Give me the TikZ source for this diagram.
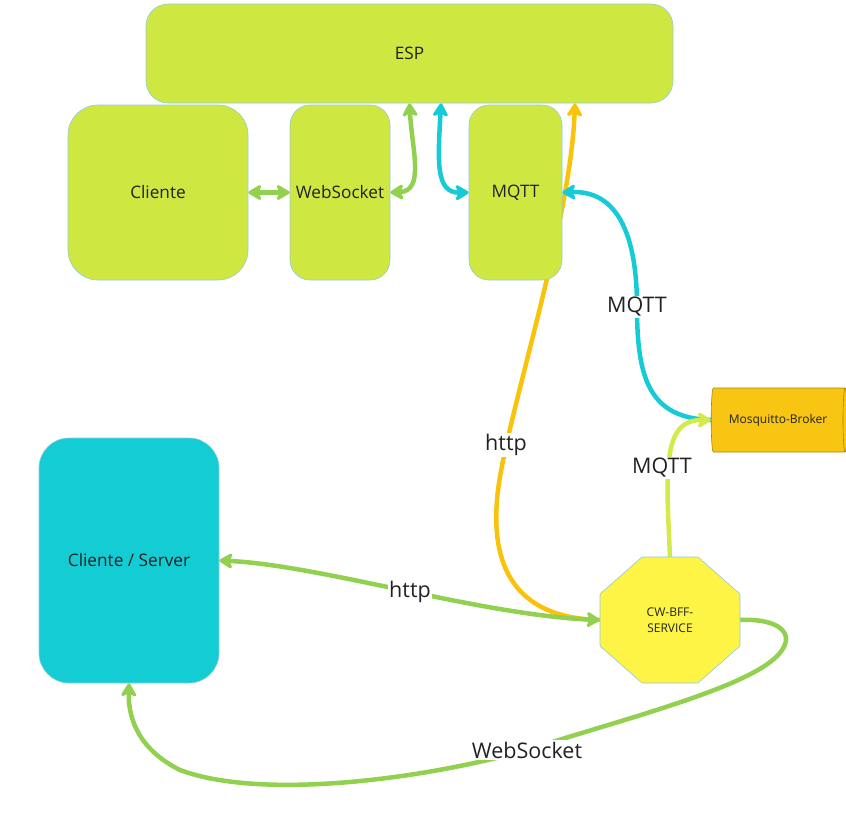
\documentclass[tikz,border=0pt]{standalone}
\usepackage{fontspec}
\setmainfont{Open Sans}
\usetikzlibrary{arrows.meta,shapes.geometric,backgrounds,calc}
\definecolor{limefill}{HTML}{CFE841}
\definecolor{cyanfill}{HTML}{14CDD4}
\definecolor{boxline}{HTML}{8FCBE0}
\definecolor{greenln}{HTML}{92D050}
\definecolor{cyanln}{HTML}{17CBD6}
\definecolor{orangeln}{HTML}{F9C30C}
\definecolor{limeln}{HTML}{D4E94A}
\definecolor{brokerfill}{HTML}{F8C513}
\definecolor{brokerline}{HTML}{A8860A}
\definecolor{octfill}{HTML}{FEF445}
\definecolor{txt}{HTML}{222222}
\newcommand\fNode{\fontsize{17.2}{20}\selectfont}
\newcommand\fLab{\fontsize{21.5}{25}\selectfont}
\newcommand\fSmall{\fontsize{12}{16}\selectfont}
\begin{document}
\begin{tikzpicture}[x=1pt,y=-1pt,
  box/.style={draw=boxline, line width=0.6pt, fill=limefill, rounded corners=#1, text=txt, font=\fNode, inner sep=0pt},
  box/.default=20pt,
  lab/.style={fill=white, text=txt, font=\fLab, inner sep=1.5pt},
  conn/.style={line width=4.5pt, line cap=butt},
  >={Stealth[length=16pt,width=19pt,inset=4.5pt,round]}]
\useasboundingbox (0,0) rectangle (846,822);
% nodes
\node[box=22pt, minimum width=527pt, minimum height=99pt] (esp) at (409.5,53.5) {ESP};
\node[box=30pt, minimum width=180pt, minimum height=175pt] (cliente) at (158,192.5) {Cliente};
\node[box=20pt, minimum width=100pt, minimum height=175pt] (ws) at (340,192.5) {WebSocket};
\node[box=20pt, minimum width=93pt, minimum height=175pt] (mqtt) at (515.5,192.5) {MQTT};
\node[box=30pt, fill=cyanfill, minimum width=180pt, minimum height=245pt] (cs) at (129,560.5) {Cliente / Server};
\node[cylinder, draw=brokerline, line width=0.6pt, fill=brokerfill, minimum height=136pt, minimum width=64pt, aspect=0.35, text=txt, font=\fSmall, inner sep=0pt] (broker) at (778,420) {Mosquitto-Broker};
\node[minimum width=140pt, minimum height=126pt, inner sep=0pt] (bff) at (670,620) {};
\draw[draw=boxline, line width=0.6pt, fill=octfill]
  ([shift={(-28,-63)}]bff.center) -- ([shift={(28,-63)}]bff.center) --
  ([shift={(70,-26)}]bff.center) -- ([shift={(70,26)}]bff.center) --
  ([shift={(28,63)}]bff.center) -- ([shift={(-28,63)}]bff.center) --
  ([shift={(-70,26)}]bff.center) -- ([shift={(-70,-26)}]bff.center) -- cycle;
\node[text=txt, font=\fSmall, align=center, inner sep=0pt] (bfftext) at (670,620) {CW-BFF-\\SERVICE};
% connectors
\begin{pgfonlayer}{background}
\draw[conn, orangeln, ->] (bff.west) .. controls (510,618) and (492,560) .. (497,500)
   .. controls (502,430) and (570,230) .. ([xshift=165.5pt]esp.south);
\draw[conn, greenln, <->] (cliente.east) -- (ws.west);
\draw[conn, greenln, <->] (ws.east) .. controls (425,191) and (412,150) .. (esp.south);
\draw[conn, cyanln, <->] ([xshift=31.5pt]esp.south) .. controls (438,160) and (435,193) .. (mqtt.west);
\draw[conn, cyanln, ->] (broker.west) .. controls (650,418) and (637,380) .. (637,307)
   .. controls (637,240) and (620,190) .. (mqtt.east);
\draw[conn, limeln, ->] (bff.north) .. controls (666,470) and (662,420) .. (broker.west);
\draw[conn, greenln, <->] (cs.east) .. controls (320,565) and (480,615) .. (bff.west);
\draw[conn, greenln, ->] (bff.east) .. controls (780,618) and (800,635) .. (775,658)
   .. controls (740,690) and (620,720) .. (527,750)
   .. controls (420,780) and (260,800) .. (180,770)
   .. controls (140,750) and (128,720) .. (cs.south);
\end{pgfonlayer}
% labels
\node[lab] (l1) at (637,307) {MQTT};
\node[lab] (l2) at (662,468) {MQTT};
\node[lab] (l3) at (506,445) {http};
\node[lab] (l4) at (410,592) {http};
\node[lab] (l5) at (527,750) {WebSocket};
\end{tikzpicture}
\end{document}
